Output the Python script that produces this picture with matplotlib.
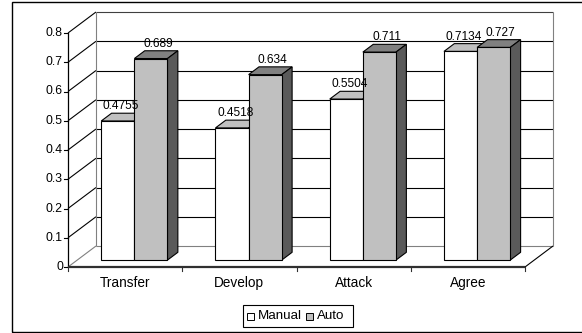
import matplotlib
matplotlib.use("Agg")
import matplotlib.pyplot as plt
from matplotlib.patches import Polygon, Rectangle

plt.rcParams['font.family'] = ['Liberation Sans', 'DejaVu Sans']

categories = ["Transfer", "Develop", "Attack", "Agree"]
manual = [0.4755, 0.4518, 0.5504, 0.7134]
auto = [0.689, 0.634, 0.711, 0.727]
manual_labels = ["0.4755", "0.4518", "0.5504", "0.7134"]
auto_labels = ["0.689", "0.634", "0.711", "0.727"]
yticks = [0, 0.1, 0.2, 0.3, 0.4, 0.5, 0.6, 0.7, 0.8]
ytick_labels = ["0", "0.1", "0.2", "0.3", "0.4", "0.5", "0.6", "0.7", "0.8"]

W, H = 582, 333
fig = plt.figure(figsize=(W / 100, H / 100), dpi=100)

# front plane of the 3d box, in pixels
x0, x1 = 68, 525
ytop, ybot = 33, 267
ax = fig.add_axes([x0 / W, 1 - ybot / H, (x1 - x0) / W, (ybot - ytop) / H])
ax.set_xlim(-0.5, 3.5)
ax.set_ylim(0, 0.8)
ax.axis('off')

# depth of the box expressed in data units (28 px right, 21 px up)
px_x = (x1 - x0) / 4.0
px_y = (ybot - ytop) / 0.8
DX = 28 / px_x
DY = 21 / px_y


def off(x, y, f):
    return (x + DX * f, y + DY * f)


def poly(pts, fc, ec='black', lw=0.8, z=2):
    ax.add_patch(Polygon(pts, closed=True, facecolor=fc, edgecolor=ec,
                         linewidth=lw, clip_on=False, zorder=z,
                         joinstyle='miter'))


def line(xs, ys, c='black', lw=0.8, z=1):
    ax.plot(xs, ys, color=c, lw=lw, clip_on=False, zorder=z,
            solid_capstyle='butt')


xl, xr = -0.5, 3.5
# back wall gridlines and side wall diagonals
for v in yticks:
    c = '#808080' if v == 0 else 'black'
    if v == 0.8:
        c = '#404040'
    bx, by = off(xl, v, 1)
    line([bx, xr + DX], [by, by], c=c)
    line([xl, bx], [v, by], c='#808080' if v == 0 else 'black')
# back wall verticals and floor right edge
line([xl + DX, xl + DX], [DY, 0.8 + DY], c='#808080')
line([xr + DX, xr + DX], [DY, 0.8 + DY], c='#808080')
line([xr, xr + DX], [0, DY], c='black')

# value axis and ticks
line([xl, xl], [0, 0.8], c='black', lw=0.9, z=5)
for v, s in zip(yticks, ytick_labels):
    ax.plot([xl - 4 / px_x, xl], [v, v], color='black', lw=0.8,
            clip_on=False, zorder=5)
    ax.text(xl - 5 / px_x, v, s, ha='right', va='center', fontsize=8.8)

# category axis
line([xl, xr], [0, 0], c='#303030', lw=1.6, z=5)
for i in range(5):
    xt = xl + i
    ax.plot([xt, xt], [0, -4 / px_y], color='#303030', lw=0.8,
            clip_on=False, zorder=5)
for i, cat in enumerate(categories):
    ax.text(i, -16 / px_y, cat, ha='center', va='center', fontsize=9.8)

# bars: front face set back a third of the depth
bw = 0.29
f0, f1 = 0.33, 0.70
specs = [(manual, -bw, 'white', '#c0c0c0', '#606060'),
         (auto, 0.0, '#c0c0c0', '#808080', '#5a5a5a')]
for vals, shift, front, top, side in specs:
    for i, v in enumerate(vals):
        xa, xb = i + shift, i + shift + bw
        a = off(xa, 0, f0)
        b = off(xb, 0, f0)
        c = off(xb, v, f0)
        d = off(xa, v, f0)
        poly([c, d, off(xa, v, f1), off(xb, v, f1)], top, z=3 + i * 3)
        poly([b, c, off(xb, v, f1), off(xb, 0, f1)], side, z=3 + i * 3)
        poly([a, b, c, d], front, z=4 + i * 3 + (shift == 0))

# value labels over the middle of each bar top
for labels, vals, shift, nudge in [(manual_labels, manual, -bw, -2),
                                   (auto_labels, auto, 0.0, 2)]:
    for i, (s, v) in enumerate(zip(labels, vals)):
        lx, ly = off(i + shift + bw / 2, v, (f0 + f1) / 2)
        ax.text(lx + nudge / px_x, ly + 5 / px_y, s, ha='center',
                va='bottom', fontsize=8.6, zorder=20)

# legend
lg_x, lg_y, lg_w, lg_h = 243, 305, 110, 22
fig.patches.append(Rectangle((lg_x / W, 1 - (lg_y + lg_h) / H), lg_w / W,
                             lg_h / H, transform=fig.transFigure,
                             facecolor='white', edgecolor='black', lw=0.8))
for sx, tx, fc, name in [(247, 258, 'white', 'Manual'),
                         (306, 317, '#c0c0c0', 'Auto')]:
    fig.patches.append(Rectangle((sx / W, 1 - 320 / H), 7 / W, 7 / H,
                                 transform=fig.transFigure, facecolor=fc,
                                 edgecolor='black', lw=0.7))
    fig.text(tx / W, 1 - 316 / H, name, ha='left', va='center',
             fontsize=9.6)

# chart border
fig.patches.append(Rectangle((12 / W, 1 - 332 / H), 580 / W, 330 / H,
                             transform=fig.transFigure, facecolor='none',
                             edgecolor='black', lw=1.0))

fig.savefig('out.png', dpi=100, facecolor='white')
